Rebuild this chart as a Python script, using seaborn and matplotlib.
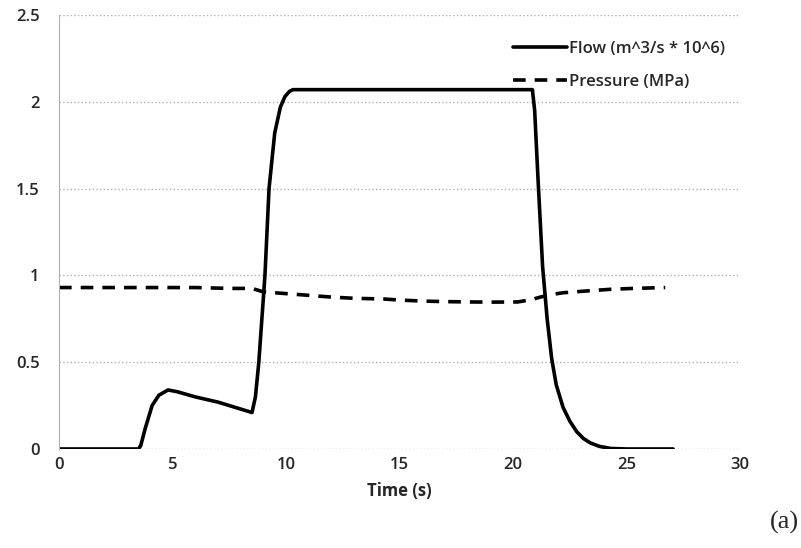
import matplotlib
matplotlib.use("Agg")
import matplotlib.pyplot as plt
import numpy as np
import pandas as pd
import seaborn as sns

# flow trace (m^3/s * 10^6)
flow_t = [0, 1, 2, 3, 3.5, 3.6, 3.8, 4.1, 4.4, 4.8, 5.2, 6.0, 7.0, 8.0, 8.5, 8.65,
          8.8, 9.07, 9.25, 9.5, 9.75, 9.95, 10.15, 10.3, 12, 15, 18, 20.85, 20.95, 21.1,
          21.3, 21.5, 21.7, 21.9, 22.2, 22.5, 22.8, 23.1, 23.4, 23.8, 24.3, 25, 26, 27.05]
flow_v = [0, 0, 0, 0, 0, 0.02, 0.12, 0.25, 0.31, 0.34, 0.33, 0.30, 0.27, 0.23, 0.21, 0.30,
          0.5, 1.0, 1.5, 1.82, 1.97, 2.03, 2.06, 2.07, 2.07, 2.07, 2.07, 2.07, 1.95, 1.55,
          1.05, 0.75, 0.52, 0.37, 0.24, 0.16, 0.10, 0.06, 0.035, 0.015, 0.003, 0.0, 0.0, 0.0]

# pressure trace (MPa)
pres_t = [0, 2, 4, 6, 7.5, 8.5, 9.0, 10, 11, 12, 13, 14.3, 15, 16, 17, 18.1, 19, 20.2,
          20.8, 21.2, 21.7, 22.2, 23.2, 24.3, 25.3, 26.7]
pres_v = [0.93, 0.93, 0.93, 0.93, 0.925, 0.925, 0.905, 0.895, 0.885, 0.875, 0.868, 0.864, 0.858,
          0.852, 0.849, 0.847, 0.846, 0.847, 0.86, 0.875, 0.89, 0.90, 0.91, 0.92, 0.925, 0.93]

flow_df = pd.DataFrame({"t": flow_t, "v": flow_v})
pres_df = pd.DataFrame({"t": pres_t, "v": pres_v})

sns.set_style("white")
plt.rcParams["font.family"] = ["Open Sans", "DejaVu Sans"]

fig = plt.figure(figsize=(8.01, 5.48), dpi=100)
ax = fig.add_axes([0.0737, 0.1807, 0.8503, 0.7919])

sns.lineplot(data=flow_df, x="t", y="v", ax=ax, color="black", linewidth=2.6,
             label="Flow (m^3/s * 10^6)", sort=False)
sns.lineplot(data=pres_df, x="t", y="v", ax=ax, color="black", linewidth=2.6,
             linestyle=(0, (3.5, 2.5)), label="Pressure (MPa)", sort=False)

ax.set_xlim(0, 30)
ax.set_ylim(0, 2.5)
ax.set_xticks([0, 5, 10, 15, 20, 25, 30])
ax.set_yticks([0, 0.5, 1, 1.5, 2, 2.5])
ax.set_xticklabels(["0", "5", "10", "15", "20", "25", "30"])
ax.set_yticklabels(["0", "0.5", "1", "1.5", "2", "2.5"])
ax.grid(axis="y", color="#b0b0b0", linewidth=1.0, linestyle=":")
ax.set_axisbelow(True)
for s in ["top", "right", "bottom"]:
    ax.spines[s].set_visible(False)
ax.spines["left"].set_color("#b0b0b0")
ax.spines["left"].set_linewidth(0.8)
ax.tick_params(axis="y", length=0, labelsize=12, pad=14)
ax.tick_params(axis="x", length=0, labelsize=12, pad=6)
for lab in ax.get_xticklabels() + ax.get_yticklabels():
    lab.set_fontweight("semibold")

ax.set_xlabel("Time (s)", fontsize=12, fontweight="bold", labelpad=6)
ax.set_ylabel("")

leg = ax.legend(loc="upper right", bbox_to_anchor=(1.0, 0.975), frameon=False,
                fontsize=12, handlelength=3.2, handletextpad=0.15, labelspacing=1.0)
for t in leg.get_texts():
    t.set_fontweight("semibold")

fig.text(0.998, 0.025, "(a)", fontsize=19, family="Liberation Serif", ha="right", va="bottom")

fig.savefig("out.png", dpi=100)
